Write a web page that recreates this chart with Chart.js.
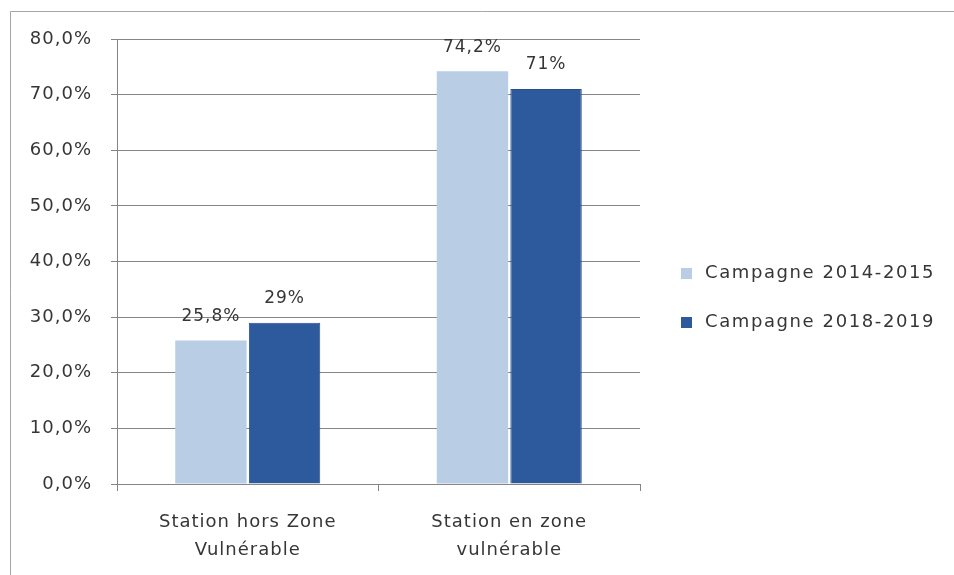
<!DOCTYPE html>
<html lang="fr">
<head>
<meta charset="utf-8">
<title>Stations par zone</title>
<script src="https://cdn.jsdelivr.net/npm/chart.js@4/dist/chart.umd.min.js"></script>
<style>
    body { margin: 0; background: #fff; overflow: hidden; }
    #chart { display: block; }
</style>
</head>
<body>
<canvas id="chart" width="954" height="575"></canvas>
<script>
const categories = [
    ['Station hors Zone', 'Vulnérable'],
    ['Station en zone', 'vulnérable']
];
const seriesNames = ['Campagne 2014-2015', 'Campagne 2018-2019'];
const campagne2014 = [25.8, 74.2];
const campagne2018 = [29, 71];
const yTicks = [0, 10, 20, 30, 40, 50, 60, 70, 80];

const colors = ['#b9cde5', '#2d5a9c'];
const textColor = '#363636';
const gridColor = '#858585';
const fontFamily = '"DejaVu Sans", sans-serif';

const ctx = document.getElementById('chart').getContext('2d');

// slightly wider text, set on the context before measuring and drawing
const spacing = {
    id: 'spacing',
    beforeLayout(chart) { chart.ctx.letterSpacing = '1px'; },
    beforeDraw(chart) { chart.ctx.letterSpacing = '1px'; }
};

// thin frame along the top and left edges
const frame = {
    id: 'frame',
    beforeDraw(chart) {
        const c = chart.ctx;
        c.save();
        c.strokeStyle = '#a6a6a6';
        c.lineWidth = 1;
        c.beginPath();
        c.moveTo(10.5, chart.height);
        c.lineTo(10.5, 11.5);
        c.lineTo(chart.width, 11.5);
        c.stroke();
        c.restore();
    }
};

// value written above each bar
const barLabels = {
    id: 'barLabels',
    afterDatasetsDraw(chart) {
        const c = chart.ctx;
        c.save();
        c.font = '17px ' + fontFamily;
        c.fillStyle = textColor;
        c.textAlign = 'center';
        c.textBaseline = 'middle';
        chart.data.datasets.forEach((ds, i) => {
            chart.getDatasetMeta(i).data.forEach((bar, j) => {
                const text = String(ds.data[j]).replace('.', ',') + '%';
                c.fillText(text, bar.x, bar.y - 24);
            });
        });
        c.restore();
    }
};

// legend to the right of the plot
const sideLegend = {
    id: 'sideLegend',
    afterDraw(chart) {
        const c = chart.ctx;
        c.save();
        c.font = '18px ' + fontFamily;
        c.letterSpacing = '1.6px';
        c.textBaseline = 'middle';
        c.textAlign = 'left';
        chart.data.datasets.forEach((ds, i) => {
            const y = 273 + i * 49;
            c.fillStyle = ds.backgroundColor;
            c.fillRect(681, y - 5, 11, 11);
            c.fillStyle = textColor;
            c.fillText(ds.label, 705, y);
        });
        c.restore();
    }
};

new Chart(ctx, {
    type: 'bar',
    data: {
        labels: categories,
        datasets: [
            {
                label: seriesNames[0],
                data: campagne2014,
                backgroundColor: colors[0],
                borderWidth: 0
            },
            {
                label: seriesNames[1],
                data: campagne2018,
                backgroundColor: colors[1],
                borderColor: '#264f8c',
                borderWidth: 1
            }
        ]
    },
    options: {
        responsive: false,
        animation: false,
        layout: { padding: { top: 39, right: 314, bottom: 0, left: 0 } },
        datasets: {
            bar: { categoryPercentage: 0.563, barPercentage: 0.97 }
        },
        plugins: {
            legend: { display: false },
            tooltip: { enabled: false }
        },
        scales: {
            x: {
                afterFit(scale) { scale.height = 91; },
                grid: {
                    display: true,
                    drawOnChartArea: false,
                    drawTicks: true,
                    tickLength: 7,
                    color: gridColor
                },
                border: { display: true, color: gridColor },
                ticks: {
                    color: textColor,
                    padding: 17,
                    maxRotation: 0,
                    font: { family: fontFamily, size: 18, lineHeight: 1.55 }
                }
            },
            y: {
                min: 0,
                max: 80,
                afterFit(scale) { scale.width = 117; },
                afterBuildTicks(scale) {
                    scale.ticks = yTicks.map(v => ({ value: v }));
                },
                grid: {
                    color: gridColor,
                    tickLength: 6,
                    drawTicks: true
                },
                border: { display: true, color: gridColor },
                ticks: {
                    color: textColor,
                    padding: 19,
                    font: { family: fontFamily, size: 18 },
                    callback: v => v.toFixed(1).replace('.', ',') + '%'
                }
            }
        }
    },
    plugins: [spacing, frame, barLabels, sideLegend]
});
</script>
</body>
</html>
